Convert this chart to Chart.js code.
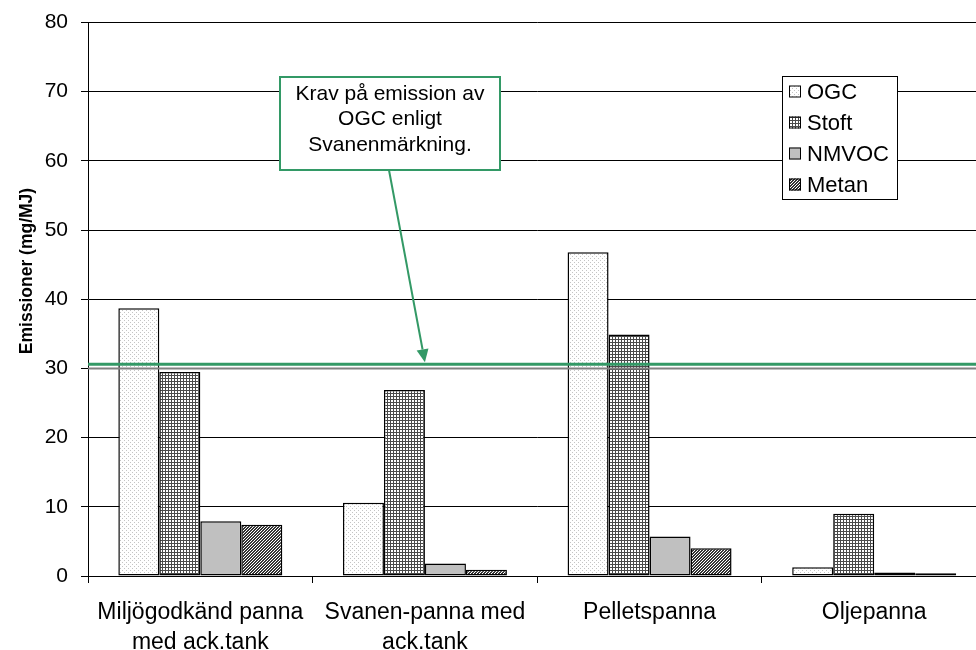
<!DOCTYPE html>
<html>
<head>
<meta charset="utf-8">
<script src="https://cdn.jsdelivr.net/npm/chart.js@4/dist/chart.umd.min.js"></script>
<style>
  html, body { margin: 0; padding: 0; background: #fff; overflow: hidden; width: 976px; height: 650px; }
  #wrap { position: absolute; left: 0; top: 0; width: 990px; height: 650px; }
</style>
</head>
<body>
<div id="wrap"><canvas id="c" width="990" height="650"></canvas></div>
<script>
// Emissions per boiler type (mg/MJ)
const categories = [
  ['Miljögodkänd panna', 'med ack.tank'],
  ['Svanen-panna med', 'ack.tank'],
  'Pelletspanna',
  'Oljepanna'
];
const seriesNames = ['OGC', 'Stoft', 'NMVOC', 'Metan'];
const ogc   = [38.7, 10.6, 46.8, 1.25];
const stoft = [29.5, 26.9, 34.9, 9.0];
const nmvoc = [7.9, 1.8, 5.7, 0.5];
const metan = [7.4, 0.9, 4.0, 0.4];
const yTicks = [0, 10, 20, 30, 40, 50, 60, 70, 80];

// Svanen OGC requirement line and its grey shadow
const ogcLimit = 30.6;
const ogcLimitShadow = 30;
const limitNote = ['Krav på emission av', 'OGC enligt', 'Svanenmärkning.'];
const yTitle = 'Emissioner (mg/MJ)';

const FONT = "'Liberation Sans', Arial, sans-serif";
const GREEN = '#339966';

const canvas = document.getElementById('c');
const ctx0 = canvas.getContext('2d');

function makePattern(size, paint) {
  const p = document.createElement('canvas');
  p.width = p.height = size;
  const g = p.getContext('2d');
  g.fillStyle = '#fff';
  g.fillRect(0, 0, size, size);
  paint(g);
  return ctx0.createPattern(p, 'repeat');
}

// fine dots
const dotFill = makePattern(4, g => {
  g.fillStyle = '#c4c4c4';
  g.fillRect(0, 0, 1, 1);
  g.fillRect(2, 2, 1, 1);
});
// small grid
const gridFill = makePattern(3, g => {
  g.fillStyle = '#4a4a4a';
  g.fillRect(0, 0, 3, 1);
  g.fillRect(0, 0, 1, 3);
});
// dense forward diagonal
const hatchFill = makePattern(3, g => {
  g.fillStyle = '#333';
  for (let x = 0; x < 3; x++) {
    for (let y = 0; y < 3; y++) {
      if ((x + y) % 3 !== 2) g.fillRect(x, y, 1, 1);
    }
  }
});

const fills = [dotFill, gridFill, '#c0c0c0', hatchFill];
const values = [ogc, stoft, nmvoc, metan];

const datasets = seriesNames.map((name, i) => ({
  label: name,
  data: values[i],
  backgroundColor: fills[i],
  borderColor: '#000',
  borderWidth: 1.5,
  borderSkipped: false,
  categoryPercentage: 0.73,
  barPercentage: 1.0
}));

// Requirement line, arrow and callout box
const limitPlugin = {
  id: 'limitNote',
  afterDatasetsDraw(chart) {
    const { ctx, chartArea, scales: { x, y } } = chart;
    ctx.save();
    // grey shadow line
    ctx.strokeStyle = '#808080';
    ctx.lineWidth = 2;
    ctx.beginPath();
    ctx.moveTo(chartArea.left, y.getPixelForValue(ogcLimitShadow));
    ctx.lineTo(chartArea.right, y.getPixelForValue(ogcLimitShadow));
    ctx.stroke();
    // green limit line
    const ly = y.getPixelForValue(ogcLimit);
    ctx.strokeStyle = GREEN;
    ctx.lineWidth = 3;
    ctx.beginPath();
    ctx.moveTo(chartArea.left, ly);
    ctx.lineTo(chartArea.right, ly);
    ctx.stroke();

    // callout box
    const bx = chartArea.left + 192, by = 77, bw = 220, bh = 93;
    const sx = bx + bw / 2 - 1, sy = by + bh;
    const tx = x.getPixelForValue(1), ty = ly - 2;
    // arrow
    const ang = Math.atan2(ty - sy, tx - sx);
    const headLen = 13, headW = 6;
    const hx = tx - headLen * Math.cos(ang), hy = ty - headLen * Math.sin(ang);
    ctx.strokeStyle = GREEN;
    ctx.lineWidth = 2;
    ctx.beginPath();
    ctx.moveTo(sx, sy);
    ctx.lineTo(hx, hy);
    ctx.stroke();
    ctx.fillStyle = GREEN;
    ctx.beginPath();
    ctx.moveTo(tx, ty);
    ctx.lineTo(hx + headW * Math.sin(ang), hy - headW * Math.cos(ang));
    ctx.lineTo(hx - headW * Math.sin(ang), hy + headW * Math.cos(ang));
    ctx.closePath();
    ctx.fill();

    ctx.fillStyle = '#fff';
    ctx.fillRect(bx, by, bw, bh);
    ctx.strokeStyle = GREEN;
    ctx.lineWidth = 2;
    ctx.strokeRect(bx, by, bw, bh);
    ctx.fillStyle = '#000';
    ctx.font = '21px ' + FONT;
    ctx.textAlign = 'center';
    ctx.textBaseline = 'middle';
    limitNote.forEach((line, i) => ctx.fillText(line, bx + bw / 2, by + 17 + i * 25.5));
    ctx.restore();
  }
};

// Boxed legend inside the plot area
const boxLegend = {
  id: 'boxLegend',
  afterDraw(chart) {
    const { ctx } = chart;
    const lx = 782.5, ly = 76.5, lw = 115, lh = 123;
    ctx.save();
    ctx.fillStyle = '#fff';
    ctx.fillRect(lx, ly, lw, lh);
    ctx.strokeStyle = '#000';
    ctx.lineWidth = 1;
    ctx.strokeRect(lx, ly, lw, lh);
    ctx.font = '22px ' + FONT;
    ctx.textBaseline = 'middle';
    ctx.textAlign = 'left';
    chart.data.datasets.forEach((ds, i) => {
      const cy = ly + 15 + i * 31;
      ctx.fillStyle = ds.backgroundColor;
      ctx.fillRect(789, cy - 6, 12, 12);
      ctx.strokeStyle = '#000';
      ctx.strokeRect(789.5, cy - 5.5, 11, 11);
      ctx.fillStyle = '#000';
      ctx.fillText(ds.label, 807, cy + 1);
    });
    ctx.restore();
  }
};

// Rotated value-axis title
const axisTitle = {
  id: 'axisTitle',
  afterDraw(chart) {
    const { ctx } = chart;
    ctx.save();
    ctx.translate(27, 271);
    ctx.rotate(-Math.PI / 2);
    ctx.font = 'bold 17.5px ' + FONT;
    ctx.fillStyle = '#000';
    ctx.textAlign = 'center';
    ctx.textBaseline = 'middle';
    ctx.fillText(yTitle, 0, 0);
    ctx.restore();
  }
};

new Chart(canvas, {
  type: 'bar',
  data: { labels: categories, datasets },
  options: {
    responsive: false,
    animation: false,
    devicePixelRatio: 1,
    layout: { padding: { top: 22.5, right: 3.5, left: 0, bottom: 0 } },
    plugins: {
      legend: { display: false },
      tooltip: { enabled: false }
    },
    scales: {
      x: {
        grid: {
          offset: true,
          drawOnChartArea: false,
          drawTicks: true,
          tickLength: 7,
          color: '#000'
        },
        border: { color: '#000', width: 1 },
        ticks: {
          color: '#000',
          padding: 15,
          maxRotation: 0,
          autoSkip: false,
          font: { family: FONT, size: 23, lineHeight: 1.28 }
        },
        afterFit(scale) {
          scale.height = 74;
          scale.paddingLeft = 0;
          scale.paddingRight = 0;
        }
      },
      y: {
        min: 0,
        max: 80,
        afterBuildTicks(scale) { scale.ticks = yTicks.map(v => ({ value: v })); },
        grid: {
          color: '#000',
          lineWidth: 1,
          drawTicks: true,
          tickLength: 7
        },
        border: { color: '#000', width: 1 },
        ticks: {
          color: '#000',
          padding: 13,
          font: { family: FONT, size: 21 }
        },
        afterFit(scale) {
          scale.width = 88;
          scale.paddingTop = 0;
          scale.paddingBottom = 0;
        }
      }
    }
  },
  plugins: [limitPlugin, boxLegend, axisTitle]
});
</script>
</body>
</html>
